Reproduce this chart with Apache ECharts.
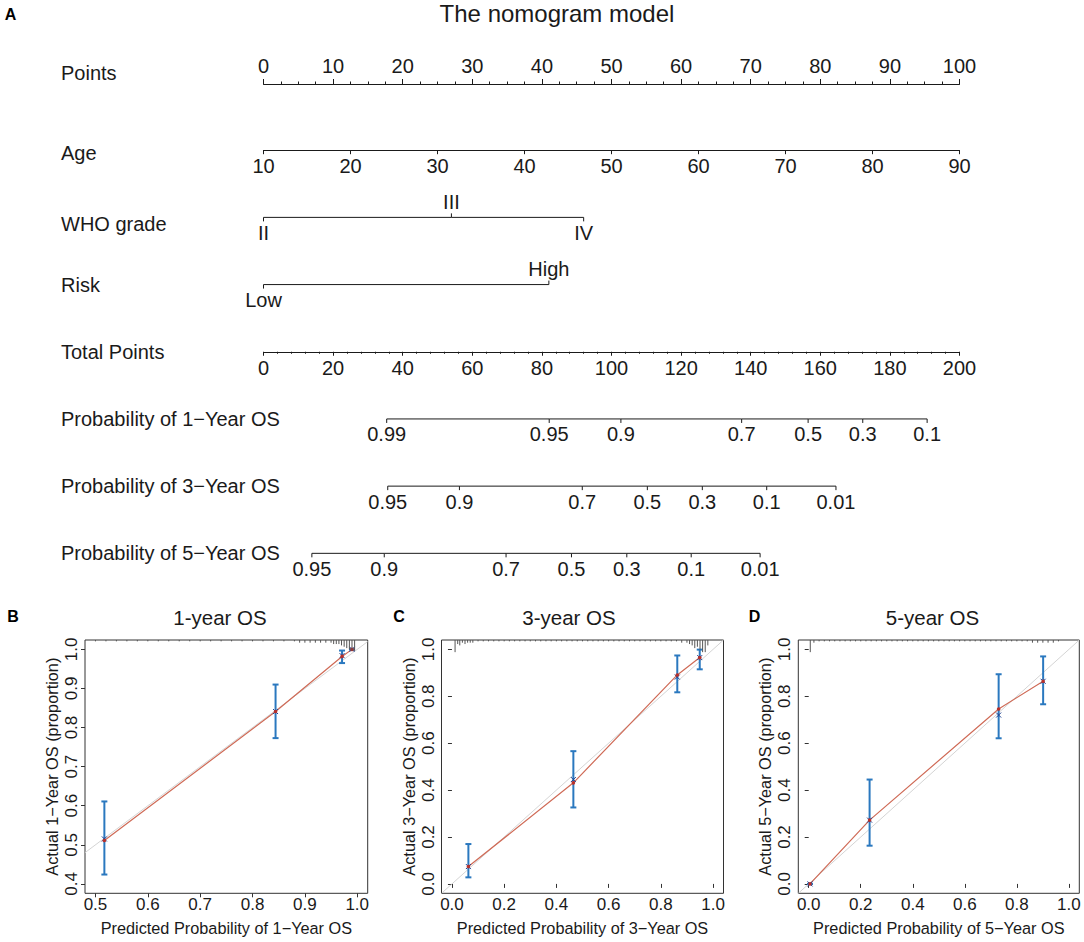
<!DOCTYPE html>
<html><head><meta charset="utf-8">
<script src="https://cdn.jsdelivr.net/npm/echarts@6/dist/echarts.min.js"></script>
<style>html,body{margin:0;padding:0;background:#fff}#c{width:1084px;height:942px}</style>
</head><body><div id="c"></div>
<script>
// ================= DATA =================
const nomoTitle = 'The nomogram model';
const rowNames = ['Points', 'Age', 'WHO grade', 'Risk', 'Total Points',
  'Probability of 1\u2212Year OS', 'Probability of 3\u2212Year OS', 'Probability of 5\u2212Year OS'];
const pointsRange = [0, 100];
const ageRange = [10, 90];
const totalRange = [0, 200];
const whoLevels = ['II', 'III', 'IV'];
const whoPoints = [0, 27, 46];
const riskLevels = ['Low', 'High'];
const riskPoints = [0, 41];
const os1Labels = ['0.99', '0.95', '0.9', '0.7', '0.5', '0.3', '0.1'];
const os1Total = [35.4, 82.1, 102.7, 137.4, 156.5, 172.2, 190.7];
const os3Labels = ['0.95', '0.9', '0.7', '0.5', '0.3', '0.1', '0.01'];
const os3Total = [35.7, 56.3, 91.6, 110.3, 126.1, 144.6, 164.5];
const os5Labels = ['0.95', '0.9', '0.7', '0.5', '0.3', '0.1', '0.01'];
const os5Total = [13.9, 34.7, 69.7, 88.5, 104.4, 122.9, 142.7];

const panelLetters = ['A', 'B', 'C', 'D'];
const calTitles = ['1-year OS', '3-year OS', '5-year OS'];
const calXNames = ['Predicted Probability of 1\u2212Year OS', 'Predicted Probability of 3\u2212Year OS', 'Predicted Probability of 5\u2212Year OS'];
const calYNames = ['Actual 1\u2212Year OS (proportion)', 'Actual 3\u2212Year OS (proportion)', 'Actual 5\u2212Year OS (proportion)'];
const calXRange = [[0.48, 1.02], [-0.04, 1.04], [-0.04, 1.04]];
const calYRange = [[0.376, 1.024], [-0.04, 1.04], [-0.04, 1.04]];
const calXTicks = [[0.5, 0.6, 0.7, 0.8, 0.9, 1.0], [0, 0.2, 0.4, 0.6, 0.8, 1.0], [0, 0.2, 0.4, 0.6, 0.8, 1.0]];
const calYTicks = [[0.4, 0.5, 0.6, 0.7, 0.8, 0.9, 1.0], [0, 0.2, 0.4, 0.6, 0.8, 1.0], [0, 0.2, 0.4, 0.6, 0.8, 1.0]];

const cal1Pred = [0.517, 0.844, 0.971, 0.990];
const cal1Obs  = [0.511, 0.841, 0.982, 1.000];
const cal1Corr = [0.515, 0.841, 0.984, 1.000];
const cal1Lo   = [0.424, 0.773, 0.965, 1.000];
const cal1Hi   = [0.611, 0.910, 0.997, 1.000];

const cal3Pred = [0.063, 0.465, 0.863, 0.949];
const cal3Obs  = [0.074, 0.431, 0.891, 0.965];
const cal3Corr = [0.074, 0.445, 0.882, 0.965];
const cal3Lo   = [0.028, 0.326, 0.817, 0.915];
const cal3Hi   = [0.170, 0.566, 0.974, 0.999];

const cal5Pred = [0.005, 0.234, 0.730, 0.901];
const cal5Obs  = [0.000, 0.272, 0.746, 0.864];
const cal5Corr = [0.000, 0.272, 0.720, 0.864];
const cal5Lo   = [0.000, 0.163, 0.621, 0.766];
const cal5Hi   = [0.000, 0.445, 0.894, 0.970];

// spike histograms (rug) of predicted probabilities: position, relative count
const rug1X = [0.50, 0.52, 0.54, 0.56, 0.58, 0.60, 0.62, 0.64, 0.66, 0.68, 0.70, 0.72, 0.74, 0.76, 0.78, 0.80, 0.82, 0.84, 0.86, 0.88,
  0.89, 0.90, 0.91, 0.92, 0.93, 0.94, 0.95, 0.955, 0.96, 0.965, 0.97, 0.975, 0.98, 0.985, 0.99, 0.995];
const rug1N = [1, 1, 1, 1, 1, 1, 1, 1, 1, 1, 1, 1, 1, 1, 1, 1, 1, 1, 1, 1,
  2, 2, 2, 2, 2, 2, 2, 3, 3, 3, 4, 5, 6, 7, 8, 8];
const rug3X = [0.012, 0.022, 0.03, 0.04, 0.05, 0.06, 0.07, 0.08,
  0.10, 0.12, 0.14, 0.16, 0.18, 0.20, 0.22, 0.24, 0.26, 0.28, 0.30, 0.32, 0.34, 0.36, 0.38, 0.40, 0.42, 0.44, 0.46, 0.48,
  0.50, 0.52, 0.54, 0.56, 0.58, 0.60, 0.62, 0.64, 0.66, 0.68, 0.70, 0.72, 0.74, 0.76, 0.78, 0.80, 0.82, 0.84, 0.86,
  0.88, 0.90, 0.91, 0.92, 0.93, 0.94, 0.95, 0.96, 0.97, 0.98];
const rug3N = [9, 3, 4, 2, 3, 2, 2, 2,
  1, 1, 1, 1, 1, 1, 1, 1, 1, 1, 1, 1, 1, 1, 1, 1, 1, 1, 1, 1,
  1, 1, 1, 1, 1, 1, 1, 1, 1, 1, 1, 1, 1, 1, 1, 1, 1, 1, 1,
  2, 2, 3, 4, 6, 5, 7, 9, 9, 4];
const rug5X = [0.006, 0.02, 0.04, 0.06, 0.08, 0.10, 0.12, 0.14, 0.16, 0.18, 0.20, 0.22, 0.24, 0.26, 0.28, 0.30,
  0.32, 0.34, 0.36, 0.38, 0.40, 0.42, 0.44, 0.46, 0.48, 0.50, 0.52, 0.54, 0.56, 0.58, 0.60, 0.62, 0.64,
  0.66, 0.68, 0.70, 0.72, 0.74, 0.76, 0.78, 0.80, 0.82, 0.84, 0.86, 0.88, 0.90, 0.92, 0.94, 0.96];
const rug5N = [9, 2, 1, 1, 1, 1, 1, 1, 1, 1, 1, 1, 1, 1, 1, 1,
  1, 1, 1, 1, 1, 1, 1, 1, 1, 1, 1, 1, 1, 1, 1, 1, 1,
  1, 1, 1, 1, 1, 1, 1, 1, 1, 1, 2, 2, 2, 2, 2, 1];

// ================= LAYOUT / STYLE =================
const FONT = '"Liberation Sans", Arial, Helvetica, sans-serif';
const INK = '#1a1a1a';
const NOMO_LEFT = 263.5, NOMO_W = 696, ROW_TOP = 83, ROW_GAP = 67.19;
const ROW_LABEL_X = 61;
const rowLabelDy = [-10, 3, 7, 0, 0, 0, 0, 0];
const NOMO_FS = 20;
const CAL_FS = 17, CAL_NAME_FS = 16.3;
const rowY = i => ROW_TOP + i * ROW_GAP;
const calGrids = [
  {left: 85, top: 640, width: 282.7, height: 253.3},
  {left: 441.5, top: 640, width: 282, height: 253.3},
  {left: 798.3, top: 640, width: 281, height: 253.3}
];
const calTitlePos = [[220, 617], [569, 617], [932.5, 617]];
const letterPos = [[10.5, 14], [13, 616], [399, 616], [754.5, 616]];
const BLUE = '#2a78bf', RED = '#cf6a56', DOTRED = '#b8302a', XBLUE = '#1d3f8f';

const chart = echarts.init(document.getElementById('c'), null, {renderer: 'svg'});

const grids = [
  {left: NOMO_LEFT, width: NOMO_W, top: ROW_TOP, height: 7 * ROW_GAP},   // 0 nomogram custom rows
  {left: NOMO_LEFT, width: NOMO_W, top: rowY(0), height: 1},            // 1 points axis
  {left: NOMO_LEFT, width: NOMO_W, top: rowY(1) - 1, height: 1},        // 2 age axis
  {left: NOMO_LEFT, width: NOMO_W, top: rowY(4) - 1, height: 1}         // 3 total points axis
].concat(calGrids.map(g => Object.assign({show: true, borderColor: '#333', borderWidth: 1, backgroundColor: 'transparent'}, g)));

const lineStyle = {color: INK, width: 1};
function nomoAxis(gridIndex, range, interval, position, tickLen, minor, margin) {
  return {
    type: 'value', gridIndex, min: range[0], max: range[1], interval, position,
    axisLine: {show: true, lineStyle},
    axisTick: {show: true, length: tickLen, lineStyle},
    minorTick: minor ? {show: true, splitNumber: minor[0], length: minor[1], lineStyle} : {show: false},
    splitLine: {show: false}, minorSplitLine: {show: false},
    axisLabel: {fontSize: NOMO_FS, fontFamily: FONT, color: INK, margin}
  };
}
const xAxes = [
  {type: 'value', gridIndex: 0, min: pointsRange[0], max: pointsRange[1], show: false},
  {type: 'value', gridIndex: 0, min: totalRange[0], max: totalRange[1], show: false},
  nomoAxis(1, pointsRange, 10, 'top', 5, [4, 2.5], 7),
  nomoAxis(2, ageRange, 10, 'bottom', 4, null, 6),
  nomoAxis(3, totalRange, 20, 'bottom', 4, [5, 2], 6)
];
const yAxes = [
  {type: 'value', gridIndex: 0, min: 0, max: 7, inverse: true, show: false},
  {type: 'value', gridIndex: 1, min: 0, max: 1, show: false},
  {type: 'value', gridIndex: 2, min: 0, max: 1, show: false},
  {type: 'value', gridIndex: 3, min: 0, max: 1, show: false}
];
const fmt1 = v => Number(v).toFixed(1);
calGrids.forEach((g, p) => {
  xAxes.push({
    type: 'value', gridIndex: 4 + p, min: calXRange[p][0], max: calXRange[p][1],
    name: calXNames[p], nameLocation: 'middle', nameGap: 27,
    nameTextStyle: {fontSize: CAL_NAME_FS, fontFamily: FONT, color: INK},
    axisLine: {show: false}, splitLine: {show: false},
    axisTick: {show: true, customValues: calXTicks[p], length: 4, lineStyle: {color: '#333'}},
    axisLabel: {customValues: calXTicks[p], formatter: fmt1, fontSize: CAL_FS, fontFamily: FONT, color: INK, margin: 3}
  });
  yAxes.push({
    type: 'value', gridIndex: 4 + p, min: calYRange[p][0], max: calYRange[p][1],
    name: calYNames[p], nameLocation: 'middle', nameGap: 25,
    nameTextStyle: {fontSize: CAL_NAME_FS, fontFamily: FONT, color: INK},
    axisLine: {show: false}, splitLine: {show: false},
    axisTick: {show: true, customValues: calYTicks[p], length: 4, lineStyle: {color: '#333'}},
    axisLabel: {customValues: calYTicks[p], formatter: fmt1, rotate: 90, fontSize: CAL_FS, fontFamily: FONT, color: INK, margin: 5}
  });
});

const series = [];

// row names
series.push({
  type: 'custom', xAxisIndex: 0, yAxisIndex: 0, silent: true,
  data: rowNames.map((n, i) => [0, i]),
  renderItem: (params, api) => {
    const i = params.dataIndex;
    const p = api.coord([0, api.value(1)]);
    return {type: 'text', style: {text: rowNames[i], x: ROW_LABEL_X, y: p[1] + rowLabelDy[i],
      fontSize: NOMO_FS, fontFamily: FONT, fill: INK, align: 'left', verticalAlign: 'middle'}};
  }
});

// non-linear / categorical nomogram scales
function scaleRow(row, axisIndex, pos, labels, sides) {
  return {
    type: 'custom', xAxisIndex: axisIndex, yAxisIndex: 0, silent: true,
    data: pos.map(v => [v, row]),
    renderItem: (params, api) => {
      const i = params.dataIndexInside;
      const p = api.coord([api.value(0), api.value(1)]);
      const s = sides[i];
      const ch = [
        {type: 'line', shape: {x1: p[0], y1: p[1], x2: p[0], y2: p[1] + s * 4}, style: {stroke: INK, lineWidth: 1}},
        {type: 'text', style: {text: labels[i], x: p[0], y: p[1] + s * 15.5, fontSize: NOMO_FS, fontFamily: FONT,
          fill: INK, align: 'center', verticalAlign: 'middle'}}
      ];
      if (i < pos.length - 1) {
        const q = api.coord([api.value(0, i + 1), api.value(1, i + 1)]);
        ch.push({type: 'line', shape: {x1: p[0], y1: p[1], x2: q[0], y2: q[1]}, style: {stroke: INK, lineWidth: 1}});
      }
      return {type: 'group', children: ch};
    }
  };
}
series.push(scaleRow(2, 0, whoPoints, whoLevels, [1, -1, 1]));
series.push(scaleRow(3, 0, riskPoints, riskLevels, [1, -1]));
series.push(scaleRow(5, 1, os1Total, os1Labels, os1Total.map(() => 1)));
series.push(scaleRow(6, 1, os3Total, os3Labels, os3Total.map(() => 1)));
series.push(scaleRow(7, 1, os5Total, os5Labels, os5Total.map(() => 1)));

// calibration panels
const calSets = [
  [cal1Pred, cal1Obs, cal1Corr, cal1Lo, cal1Hi, rug1X, rug1N],
  [cal3Pred, cal3Obs, cal3Corr, cal3Lo, cal3Hi, rug3X, rug3N],
  [cal5Pred, cal5Obs, cal5Corr, cal5Lo, cal5Hi, rug5X, rug5N]
];
calSets.forEach((set, p) => {
  const [pred, obs, corr, lo, hi, rx, rn] = set;
  const xi = 5 + p, yi = 4 + p;
  const a = Math.max(calXRange[p][0], calYRange[p][0]), b = Math.min(calXRange[p][1], calYRange[p][1]);
  series.push({type: 'line', xAxisIndex: xi, yAxisIndex: yi, silent: true, symbol: 'none', z: 1,
    data: [[a, a], [b, b]], lineStyle: {color: '#d4d4d4', width: 1}});
  series.push({type: 'line', xAxisIndex: xi, yAxisIndex: yi, silent: true, symbol: 'none', z: 2,
    data: pred.map((v, i) => [v, obs[i]]), lineStyle: {color: RED, width: 1.2}});
  series.push({type: 'custom', xAxisIndex: xi, yAxisIndex: yi, silent: true, z: 3,
    data: pred.map((v, i) => [v, lo[i], hi[i], corr[i], obs[i]]),
    renderItem: (params, api) => {
      const x = api.value(0);
      const pl = api.coord([x, api.value(1)]), ph = api.coord([x, api.value(2)]);
      const pc = api.coord([x, api.value(3)]), po = api.coord([x, api.value(4)]);
      const st = {stroke: BLUE, lineWidth: 2};
      return {type: 'group', children: [
        {type: 'line', shape: {x1: pl[0], y1: pl[1], x2: ph[0], y2: ph[1]}, style: st},
        {type: 'line', shape: {x1: pl[0] - 3, y1: pl[1], x2: pl[0] + 3, y2: pl[1]}, style: st},
        {type: 'line', shape: {x1: ph[0] - 3, y1: ph[1], x2: ph[0] + 3, y2: ph[1]}, style: st},
        {type: 'line', shape: {x1: pc[0] - 2.5, y1: pc[1] - 2.5, x2: pc[0] + 2.5, y2: pc[1] + 2.5}, style: {stroke: XBLUE, lineWidth: 1}},
        {type: 'line', shape: {x1: pc[0] - 2.5, y1: pc[1] + 2.5, x2: pc[0] + 2.5, y2: pc[1] - 2.5}, style: {stroke: XBLUE, lineWidth: 1}},
        {type: 'circle', shape: {cx: po[0], cy: po[1], r: 1.8}, style: {fill: DOTRED}}
      ]};
    }
  });
  series.push({type: 'custom', xAxisIndex: xi, yAxisIndex: yi, silent: true, z: 3,
    data: rx.map((v, i) => [v, rn[i]]),
    renderItem: (params, api) => {
      const top = params.coordSys.y;
      const px = api.coord([api.value(0), calYRange[p][1]])[0];
      return {type: 'line', shape: {x1: px, y1: top, x2: px, y2: top + api.value(1) * 1.35},
        style: {stroke: '#555', lineWidth: 1}};
    }
  });
});

const graphics = [];
panelLetters.forEach((t, i) => graphics.push({type: 'text', x: letterPos[i][0], y: letterPos[i][1],
  style: {text: t, fontSize: 16, fontWeight: 'bold', fontFamily: FONT, fill: '#000', align: 'center', verticalAlign: 'middle'}}));
graphics.push({type: 'text', x: 557, y: 13,
  style: {text: nomoTitle, fontSize: 24, fontFamily: FONT, fill: INK, align: 'center', verticalAlign: 'middle'}});
calTitles.forEach((t, i) => graphics.push({type: 'text', x: calTitlePos[i][0], y: calTitlePos[i][1],
  style: {text: t, fontSize: 20.5, fontFamily: FONT, fill: INK, align: 'center', verticalAlign: 'middle'}}));

chart.setOption({
  animation: false,
  backgroundColor: '#fff',
  textStyle: {fontFamily: FONT},
  grid: grids, xAxis: xAxes, yAxis: yAxes, series, graphic: graphics
});
</script></body></html>
